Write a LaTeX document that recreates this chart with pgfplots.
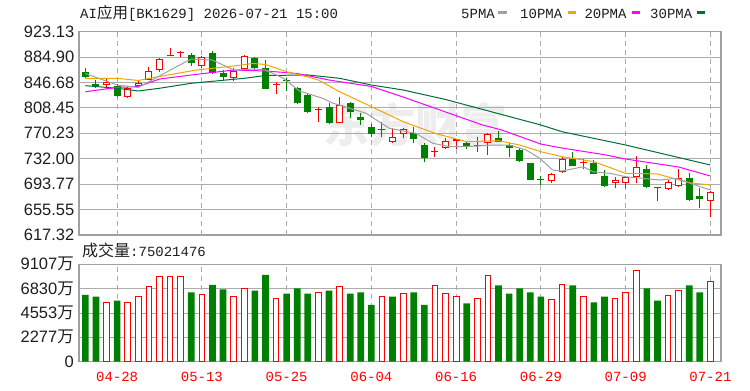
\documentclass[border=0pt]{standalone}
\usepackage{pgfplots}
\pgfplotsset{compat=1.18}
\usepackage{pgfplotstable}
\usepackage{fontspec}
\setmainfont{Liberation Sans}
\newfontfamily\cjk{Noto Sans CJK SC}
\newfontfamily\mono{Liberation Mono}

\definecolor{kred}{RGB}{255,0,0}
\definecolor{kgreen}{RGB}{0,128,0}
\definecolor{ma5}{RGB}{160,160,160}
\definecolor{ma10}{RGB}{240,165,0}
\definecolor{ma20}{RGB}{255,0,255}
\definecolor{ma30}{RGB}{0,110,50}
\definecolor{kgridcol}{RGB}{172,172,172}
\definecolor{framec}{RGB}{160,160,160}
\definecolor{txt}{RGB}{30,30,30}

\pgfplotstableread{
i o h l c
2 842.9 851.5 836.9 847.9
4 825.3 840.0 824.0 837.9
5 841.4 849.0 839.0 845.9
6 850.4 870.0 849.7 864.0
7 865.5 883.5 863.2 882.0
8 887.0 898.6 887.0 888.5
9 891.0 894.5 885.5 892.5
11 872.0 887.0 868.0 885.0
14 854.2 868.0 849.4 864.7
15 867.0 888.0 865.5 886.5
18 843.5 847.8 830.1 845.0
22 805.3 810.2 787.6 806.7
24 785.7 824.4 785.3 812.8
28 774.5 787.6 764.2 776.0
29 757.6 777.7 756.0 764.2
30 769.9 777.7 762.7 776.2
33 741.8 750.0 734.1 743.3
34 747.6 762.7 746.1 759.0
35 759.0 762.2 746.1 761.6
37 750.6 764.2 742.5 752.0
38 755.1 770.2 737.5 769.1
44 698.9 710.0 695.8 708.9
45 712.4 735.0 710.0 731.1
47 725.3 731.1 716.0 726.7
50 695.0 704.0 687.4 699.9
51 695.8 705.0 687.4 704.0
52 704.0 736.0 695.8 719.9
55 685.9 699.9 684.9 696.9
56 690.9 716.0 689.9 702.5
59 668.8 683.8 644.7 682.3
}\redc

\pgfplotstableread{
i o h l c
0 862.9 868.9 853.0 855.4
1 844.4 850.4 837.9 841.4
3 841.4 843.9 824.8 826.8
10 888.8 890.6 872.0 875.6
12 891.5 894.5 860.0 860.5
13 860.5 865.5 850.4 855.4
16 883.1 885.5 865.5 868.0
17 868.5 880.5 836.5 836.9
19 849.8 854.2 834.6 848.3
20 837.9 840.3 814.3 815.3
21 827.8 830.4 800.7 802.7
23 810.2 815.3 784.2 785.7
25 815.8 817.7 792.5 802.2
26 795.2 801.2 782.7 790.2
27 780.1 784.2 764.2 769.1
31 770.2 780.1 755.1 761.2
32 752.6 755.1 727.4 732.6
36 756.0 757.6 746.1 751.1
39 762.7 774.1 757.3 757.6
40 752.6 755.1 735.0 747.6
41 745.1 747.6 727.4 728.9
42 725.0 725.5 699.2 699.9
43 701.6 706.0 692.4 700.2
46 731.1 742.5 720.5 721.0
48 725.0 730.0 708.5 708.9
49 706.0 715.0 689.9 690.9
53 716.0 722.5 687.4 688.9
54 689.8 690.0 668.3 688.6
57 702.5 710.0 668.8 669.8
58 675.8 687.4 657.3 670.9
}\greenc

\pgfplotstableread{
i v
2 5552
4 5552
5 6082
6 7018
7 7953
8 7953
9 7953
11 6238
14 6082
15 6862
18 5926
22 6488
24 7018
28 6082
30 6332
33 7111
34 6332
35 6082
37 5926
38 8047
44 5801
45 7236
47 6082
50 5926
51 6456
52 8484
55 6207
56 6612
59 7502
}\volred

\pgfplotstableread{
i v
0 6238
1 6082
3 5708
10 6488
12 7174
13 6768
16 6643
17 8109
19 6363
20 6862
21 6363
23 6643
25 6363
26 6488
27 5302
29 6082
31 6488
32 5302
36 5458
39 7143
40 6363
41 6862
42 6488
43 6082
46 7143
48 5552
49 6082
53 6862
54 5708
57 7143
58 6488
}\volgreen

\newcommand\tickfont{\fontsize{16.5}{18}\selectfont\color{txt}}
\newcommand\monofont{\mono\fontsize{14}{16}\selectfont}

\pgfplotsset{
  kbase/.style={
    xmin=-0.6, xmax=60,
    xtick={3,11,19,27,35,43,51,59},
    major tick length=0pt,
    axis line style={draw=framec, line width=1.5pt},
    scale only axis, width=642pt,
  },
}
\tikzset{
  vgrid/.style={draw=kgridcol, line width=1pt, dash pattern=on 5pt off 4pt},
  hgrid/.style={draw=kgridcol, line width=1pt},
}

\begin{document}
\begin{tikzpicture}

% watermark
\node[text=black!7, font=\cjk\bfseries\fontsize{46}{50}\selectfont, inner sep=0] at (415pt,266pt) {东方财富};

% title
\node[anchor=base west, inner sep=0, text=txt] at (80pt,372pt) {\monofont AI{\cjk\fontsize{15.5}{17}\selectfont 应用}[BK1629] 2026-07-21 15:00};

% legend
\node[anchor=base west, inner sep=0, text=txt] at (461pt,372.7pt) {\monofont 5PMA};
\fill[ma5] (498.3pt,376.7pt) rectangle (506.7pt,380pt);
\node[anchor=base west, inner sep=0, text=txt] at (520pt,372.7pt) {\monofont 10PMA};
\fill[ma10] (567.5pt,376.7pt) rectangle (575.5pt,380pt);
\node[anchor=base west, inner sep=0, text=txt] at (584.3pt,372.7pt) {\monofont 20PMA};
\fill[ma20] (632pt,376.7pt) rectangle (640pt,380pt);
\node[anchor=base west, inner sep=0, text=txt] at (650pt,372.7pt) {\monofont 30PMA};
\fill[ma30] (696.7pt,376.7pt) rectangle (705pt,380pt);

% volume label
\node[anchor=base west, inner sep=0, text=txt] at (82pt,134.5pt) {{\cjk\fontsize{16}{18}\selectfont 成交量}\monofont :75021476};

% ---------- price panel ----------
\begin{scope}[shift={(79pt,156.1pt)}]
\begin{axis}[
  kbase,
  at={(0pt,0pt)}, anchor=south west,
  height=203.2pt,
  ymin=617.32, ymax=923.13,
  xticklabels={},
  ytick={617.32,655.55,693.77,732.00,770.23,808.45,846.68,884.90,923.13},
  yticklabels={617.32,655.55,693.77,732.00,770.23,808.45,846.68,884.90,923.13},
  yticklabel style={font=\tickfont, anchor=east, inner sep=0pt, xshift=-4.5pt},
  clip=true,
]
% grid
\pgfplotsinvokeforeach{655.55,693.77,732.00,770.23,808.45,846.68,884.90}{
  \addplot[hgrid, mark=none, forget plot] coordinates {(-0.6,#1) (60,#1)};
}
\pgfplotsinvokeforeach{3,11,19,27,35,43,51,59}{
  \addplot[vgrid, mark=none, forget plot] coordinates {(#1,617.32) (#1,923.13)};
}
% wicks
\addplot[draw=none, mark=none, forget plot, error bars/.cd, y dir=plus, y explicit, error mark=none,
  error bar style={draw=kred, line width=1pt}]
  table[x=i, y=l, y error expr=\thisrow{h}-\thisrow{l}] {\redc};
\addplot[draw=none, mark=none, forget plot, error bars/.cd, y dir=plus, y explicit, error mark=none,
  error bar style={draw=kgreen, line width=1pt}]
  table[x=i, y=l, y error expr=\thisrow{h}-\thisrow{l}] {\greenc};
% bodies
\addplot[draw=none, mark=none, forget plot, error bars/.cd, y dir=plus, y explicit, error mark=none,
  error bar style={draw=kgreen, line width=7pt}]
  table[x=i, y=c, y error expr=\thisrow{o}-\thisrow{c}] {\greenc};
\addplot[draw=none, mark=none, forget plot, error bars/.cd, y dir=plus, y explicit, error mark=none,
  error bar style={draw=kred, line width=7pt}]
  table[x=i, y=o, y error expr=\thisrow{c}-\thisrow{o}] {\redc};
\addplot[draw=none, mark=none, forget plot, error bars/.cd, y dir=plus, y explicit, error mark=none,
  error bar style={draw=white, line width=5pt}]
  table[x=i, y expr=\thisrow{o}+1.5, y error expr={max(\thisrow{c}-\thisrow{o}-3,0)}] {\redc};

% moving averages
\addplot[ma30, line width=1pt, mark=none] coordinates {
(0,841.9) (3,838.0) (5,833.9) (7,838.0) (10,845.5) (15,853.0) (17,857.2) (21,858.0) (24,853.0) (27,842.9) (30,835.4) (34,821.1) (43,782.7) (45,772.6) (51,752.6) (59,722.5)};
\addplot[ma20, line width=1pt, mark=none] coordinates {
(0,832.8) (3,839.2) (5,840.7) (7,851.9) (10,858.0) (14,865.5) (17,864.0) (20,860.2) (23,850.4) (27,840.7) (30,824.8) (34,802.3) (37.5,782.7) (39.3,775.2) (43,754.0) (45,748.0) (49,738.0) (51,731.5) (56,719.5) (59,705.9)};
\addplot[ma10, line width=1pt, mark=none] coordinates {
(0,853.0) (3,853.0) (5,849.7) (7,855.7) (10.5,865.5) (14,871.5) (15.8,875.3) (17,873.8) (19,862.9) (21,855.0) (22,850.4) (24,832.8) (27,810.3) (30,787.7) (33,770.2) (36,757.6) (39,759.1) (41,752.6) (43,742.5) (45,735.0) (48,727.5) (51,710.0) (54,709.0) (57,695.9) (59,692.4)};
\addplot[ma5, line width=1pt, mark=none] coordinates {
(0,860.2) (3,842.9) (5,839.2) (7,856.5) (8.6,870.5) (10,882.0) (12,880.5) (14,865.5) (16,867.0) (17,865.5) (18.7,853.0) (20.2,833.9) (22.4,822.9) (23.4,815.4) (25.5,805.3) (26.5,800.3) (28.7,777.7) (30,773.7) (31.2,770.2) (32.8,755.2) (34.4,750.1) (35.9,750.1) (38.5,752.6) (40,752.6) (41.6,745.1) (42.9,732.6) (44.1,715.0) (45,713.5) (47,719.9) (47.9,712.4) (49.5,710.0) (51,704.9) (54.2,699.9) (55.8,702.5) (58,689.9) (59,684.9)};
\end{axis}
\end{scope}

% ---------- volume panel ----------
\begin{scope}[shift={(79pt,29.3pt)}]
\begin{axis}[
  kbase,
  at={(0pt,0pt)}, anchor=south west,
  height=97.4pt,
  ymin=0, ymax=9107,
  xticklabels={04-28,05-13,05-25,06-04,06-16,06-29,07-09,07-21},
  xticklabel style={font=\monofont, text=kred, anchor=north, inner sep=0pt, yshift=-10pt},
  ytick={0,2276.75,4553.5,6830.25,9107},
  yticklabels={0,2277{\cjk 万},4553{\cjk 万},6830{\cjk 万},9107{\cjk 万}},
  yticklabel style={font=\tickfont, anchor=east, inner sep=0pt, xshift=-5pt},
  scaled y ticks=false,
]
\pgfplotsinvokeforeach{2276.75,4553.5,6830.25}{
  \addplot[hgrid, mark=none, forget plot] coordinates {(-0.6,#1) (60,#1)};
}
\pgfplotsinvokeforeach{3,11,19,27,35,43,51,59}{
  \addplot[vgrid, mark=none, forget plot] coordinates {(#1,0) (#1,9107)};
}
\addplot[ybar, bar width=0.63, bar shift=0pt, fill=kgreen, draw=none] table[x=i, y=v] {\volgreen};
\addplot[ybar, bar width=0.54, bar shift=0pt, fill=white, draw=kred, line width=1pt] table[x=i, y=v] {\volred};
\end{axis}
\end{scope}

\pgfresetboundingbox
\path[use as bounding box] (0pt,0pt) rectangle (750pt,391pt);
\end{tikzpicture}
\end{document}
